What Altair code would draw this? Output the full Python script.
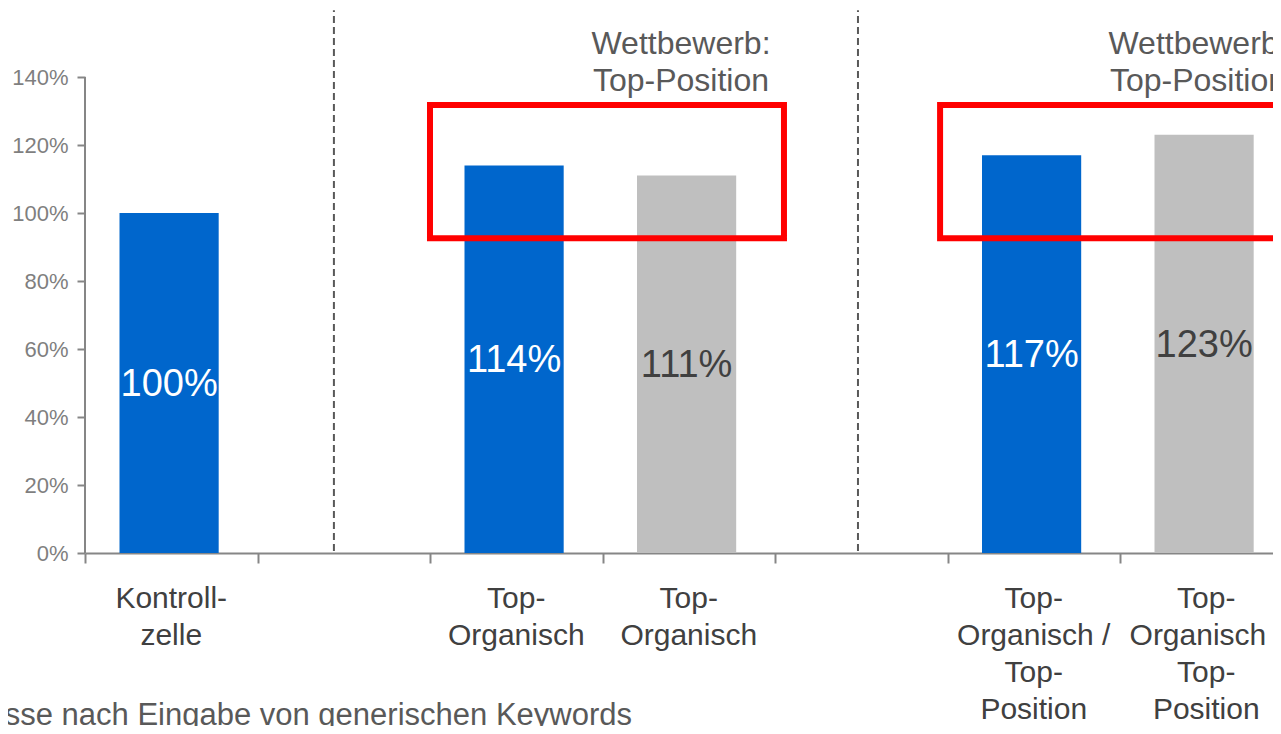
import altair as alt
import pandas as pd

# ---------------- data ----------------
categories = [
    "Kontroll-\nzelle",
    "",
    "Top-\nOrganisch",
    "Top-\nOrganisch",
    "",
    "Top-\nOrganisch /\nTop-\nPosition",
    "Top-\nOrganisch /\nTop-\nPosition",
]
bar_slots = [0, 2, 3, 5, 6]
bar_values = [100, 114, 111, 117, 123]
bar_groups = ["Test", "Test", "Wettbewerb", "Test", "Wettbewerb"]

y_ticks = [0, 20, 40, 60, 80, 100, 120, 140]
x_ticks = [0, 1, 2, 3, 4, 5, 6]

divider_x = [1.443, 4.481]
box_x = [2.0, 4.957]
box_x2 = [4.052, 7.01]
box_y = [92.6, 92.6]
box_y2 = [131.8, 131.8]
annot_x = [3.455, 6.452]
annot_text = ["Wettbewerb:\nTop-Position", "Wettbewerb:\nTop-Position"]
footnote = ["Ergebnisse nach Eingabe von generischen Keywords"]

# ---------------- geometry / style ----------------
FONT = "Liberation Sans"
STEP_PX = 172.5
PX_PER_PCT = 3.4
PLOT_W = 1188
PLOT_H = 545
X_MAX = PLOT_W / STEP_PX
Y_MAX = PLOT_H / PX_PER_PCT
BLUE = "#0066CC"
GRAY = "#BFBFBF"
AXIS = "#868686"

bars = pd.DataFrame({
    "slot": bar_slots,
    "value": bar_values,
    "group": bar_groups,
})
bars["x0"] = bars["slot"] + 0.2
bars["x1"] = bars["slot"] + 0.775
bars["xc"] = bars["slot"] + 0.4875
bars["half"] = bars["value"] / 2
bars["label"] = bars["value"].astype(str) + "%"

cats = pd.DataFrame({"slot": list(range(len(categories))), "label": categories})
cats["xc"] = cats["slot"] + 0.5
cats["y"] = -9.0

xs = alt.Scale(domain=[0, X_MAX], nice=False, zero=False)
ys = alt.Scale(domain=[0, Y_MAX], nice=False, zero=False)

x_axis = alt.Axis(values=x_ticks, labels=False, title=None, grid=False,
                  tickSize=10, tickWidth=2, tickColor=AXIS,
                  domainColor=AXIS, domainWidth=2)
y_axis = alt.Axis(values=y_ticks, labelExpr="datum.value + '%'", title=None,
                  grid=False, domain=False, tickSize=8, tickWidth=2,
                  tickColor=AXIS, labelFontSize=22, labelColor="#7F7F7F",
                  labelFont=FONT, labelPadding=9)

bar_layer = alt.Chart(bars).mark_rect().encode(
    x=alt.X("x0:Q", scale=xs, axis=x_axis),
    x2="x1:Q",
    y=alt.Y("value:Q", scale=ys, axis=y_axis),
    y2=alt.datum(0),
    fill=alt.Fill("group:N", scale=alt.Scale(domain=["Test", "Wettbewerb"], range=[BLUE, GRAY]), legend=None),
)

value_labels = alt.Chart(bars).mark_text(font=FONT, fontSize=38, baseline="middle", align="center", dy=2).encode(
    x=alt.X("xc:Q", scale=xs),
    y=alt.Y("half:Q", scale=ys),
    text="label:N",
    color=alt.Color("group:N", scale=alt.Scale(domain=["Test", "Wettbewerb"], range=["#FFFFFF", "#404040"]), legend=None),
)

y_line = alt.Chart(pd.DataFrame({"x": [0], "y": [0], "y2": [140]})).mark_rule(color=AXIS, strokeWidth=2).encode(
    x=alt.X("x:Q", scale=xs), y=alt.Y("y:Q", scale=ys), y2="y2:Q"
)

dividers = alt.Chart(pd.DataFrame({"x": divider_x, "y": [0.6, 0.6], "y2": [159.6, 159.6]})).mark_rule(
    color="#595959", strokeWidth=2, strokeDash=[7, 4]
).encode(x=alt.X("x:Q", scale=xs), y=alt.Y("y:Q", scale=ys), y2="y2:Q")

boxes = alt.Chart(pd.DataFrame({"x": box_x, "x2": box_x2, "y": box_y, "y2": box_y2})).mark_rect(
    filled=False, stroke="#FF0000", strokeWidth=6
).encode(x=alt.X("x:Q", scale=xs), x2="x2:Q", y=alt.Y("y:Q", scale=ys), y2="y2:Q")

annots = alt.Chart(pd.DataFrame({"x": annot_x, "y": [149.7, 149.7], "t": annot_text})).mark_text(
    font=FONT, fontSize=32, color="#595959", lineBreak="\n", lineHeight=37, baseline="middle", align="center"
).encode(x=alt.X("x:Q", scale=xs), y=alt.Y("y:Q", scale=ys), text="t:N")

cat_labels = alt.Chart(cats).mark_text(
    font=FONT, fontSize=30, color="#404040", lineBreak="\n", lineHeight=37, baseline="top", align="center"
).encode(x=alt.X("xc:Q", scale=xs), y=alt.Y("y:Q", scale=ys), text="label:N")

foot = alt.Chart(pd.DataFrame({"x": [3.171], "y": [-50.6], "t": footnote})).mark_text(
    font=FONT, fontSize=31, color="#595959", baseline="alphabetic", align="right"
).encode(x=alt.X("x:Q", scale=xs), y=alt.Y("y:Q", scale=ys), text="t:N")

chart = alt.layer(
    bar_layer, y_line, dividers, boxes, value_labels, annots, cat_labels, foot
).resolve_scale(
    color="independent", fill="independent"
).properties(
    width=PLOT_W, height=PLOT_H,
    autosize=alt.AutoSizeParams(type="none"),
    padding={"left": 77, "top": 0, "right": 0, "bottom": 173},
).configure(background="white", view=alt.ViewConfig(strokeWidth=0, stroke=None))

chart.save("out.html", embed_options={"renderer": "svg", "actions": False})
